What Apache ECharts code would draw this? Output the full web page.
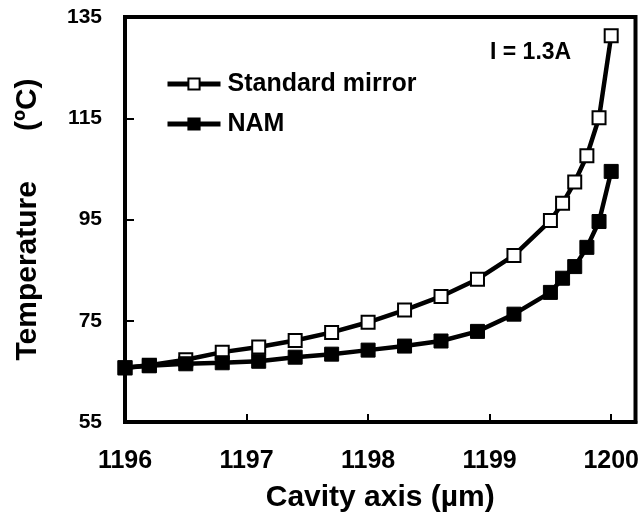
<!DOCTYPE html>
<html>
<head>
<meta charset="utf-8">
<script src="https://cdn.jsdelivr.net/npm/echarts@6/dist/echarts.min.js"></script>
<style>
html,body{margin:0;padding:0;background:#fff;}
#chart{width:642px;height:527px;}
</style>
</head>
<body>
<div id="chart"></div>
<script>
// Data
const xValues = [1196, 1196.2, 1196.5, 1196.8, 1197.1, 1197.4, 1197.7, 1198.0, 1198.3, 1198.6, 1198.9, 1199.2, 1199.5, 1199.6, 1199.7, 1199.8, 1199.9, 1200];
const standardMirror = [65.7, 66.2, 67.3, 68.8, 69.8, 71.1, 72.7, 74.7, 77.1, 79.8, 83.2, 87.9, 94.8, 98.2, 102.4, 107.6, 115.1, 131.3];
const nam = [65.7, 66.1, 66.5, 66.7, 67.0, 67.8, 68.4, 69.2, 70.0, 71.0, 72.9, 76.3, 80.6, 83.4, 85.7, 89.5, 94.6, 104.5];
const xTicks = [1196, 1197, 1198, 1199, 1200];
const yTicks = [55, 75, 95, 115, 135];
const seriesNames = ['Standard mirror', 'NAM'];
const annotation = 'I = 1.3A';

const FONT = '"Liberation Sans", Arial, sans-serif';
const chart = echarts.init(document.getElementById('chart'), null, {renderer: 'canvas'});

const pairs = (ys) => xValues.map((x, i) => [x, ys[i]]);

chart.setOption({
  animation: false,
  backgroundColor: '#fff',
  textStyle: {fontFamily: FONT, color: '#000'},
  grid: {left: 125, right: 5, top: 17, bottom: 105, show: true, borderColor: '#000', borderWidth: 4, containLabel: false},
  legend: {
    orient: 'vertical', left: 165, top: 70, itemGap: 12, padding: 0,
    itemWidth: 53, itemHeight: 14,
    lineStyle: {width: 5, color: '#000'},
    textStyle: {fontFamily: FONT, fontSize: 25, fontWeight: 'bold', color: '#000', lineHeight: 28, padding: [0, 0, 0, 2]},
    data: seriesNames
  },
  graphic: [{
    type: 'text', left: 490, top: 41,
    style: {text: annotation, font: 'bold 23px ' + FONT, fill: '#000'}
  }],
  xAxis: {
    type: 'value', min: 1196, max: 1200.2,
    name: 'Cavity axis (µm)', nameLocation: 'middle', nameGap: 61,
    nameTextStyle: {fontFamily: FONT, fontSize: 30, fontWeight: 'bold', color: '#000'},
    axisLine: {show: true, lineStyle: {color: '#000', width: 4}},
    axisTick: {show: true, inside: true, length: 8, lineStyle: {color: '#000', width: 2}, customValues: xTicks},
    axisLabel: {show: true, customValues: xTicks, formatter: (v) => String(v), fontFamily: FONT, fontSize: 25, fontWeight: 'bold', color: '#000', margin: 27},
    splitLine: {show: false}
  },
  yAxis: {
    type: 'value', min: 55, max: 135,
    name: 'Temperature      (ºC)', nameLocation: 'middle', nameGap: 82,
    nameTextStyle: {fontFamily: FONT, fontSize: 30, fontWeight: 'bold', color: '#000'},
    axisLine: {show: true, lineStyle: {color: '#000', width: 4}},
    axisTick: {show: true, inside: true, length: 9, lineStyle: {color: '#000', width: 2}, customValues: yTicks},
    axisLabel: {show: true, customValues: yTicks, fontFamily: FONT, fontSize: 21, fontWeight: 'bold', color: '#000', margin: 23},
    splitLine: {show: false}
  },
  series: [
    {
      name: seriesNames[0], type: 'line', data: pairs(standardMirror),
      symbol: 'rect', symbolSize: 13, showAllSymbol: true,
      lineStyle: {color: '#000', width: 4.5},
      itemStyle: {color: '#fff', borderColor: '#000', borderWidth: 2},
      z: 2
    },
    {
      name: seriesNames[1], type: 'line', data: pairs(nam),
      symbol: 'rect', symbolSize: 14, showAllSymbol: true,
      lineStyle: {color: '#000', width: 4.5},
      itemStyle: {color: '#000', borderColor: '#000', borderWidth: 1},
      z: 3
    }
  ]
});
</script>
</body>
</html>
